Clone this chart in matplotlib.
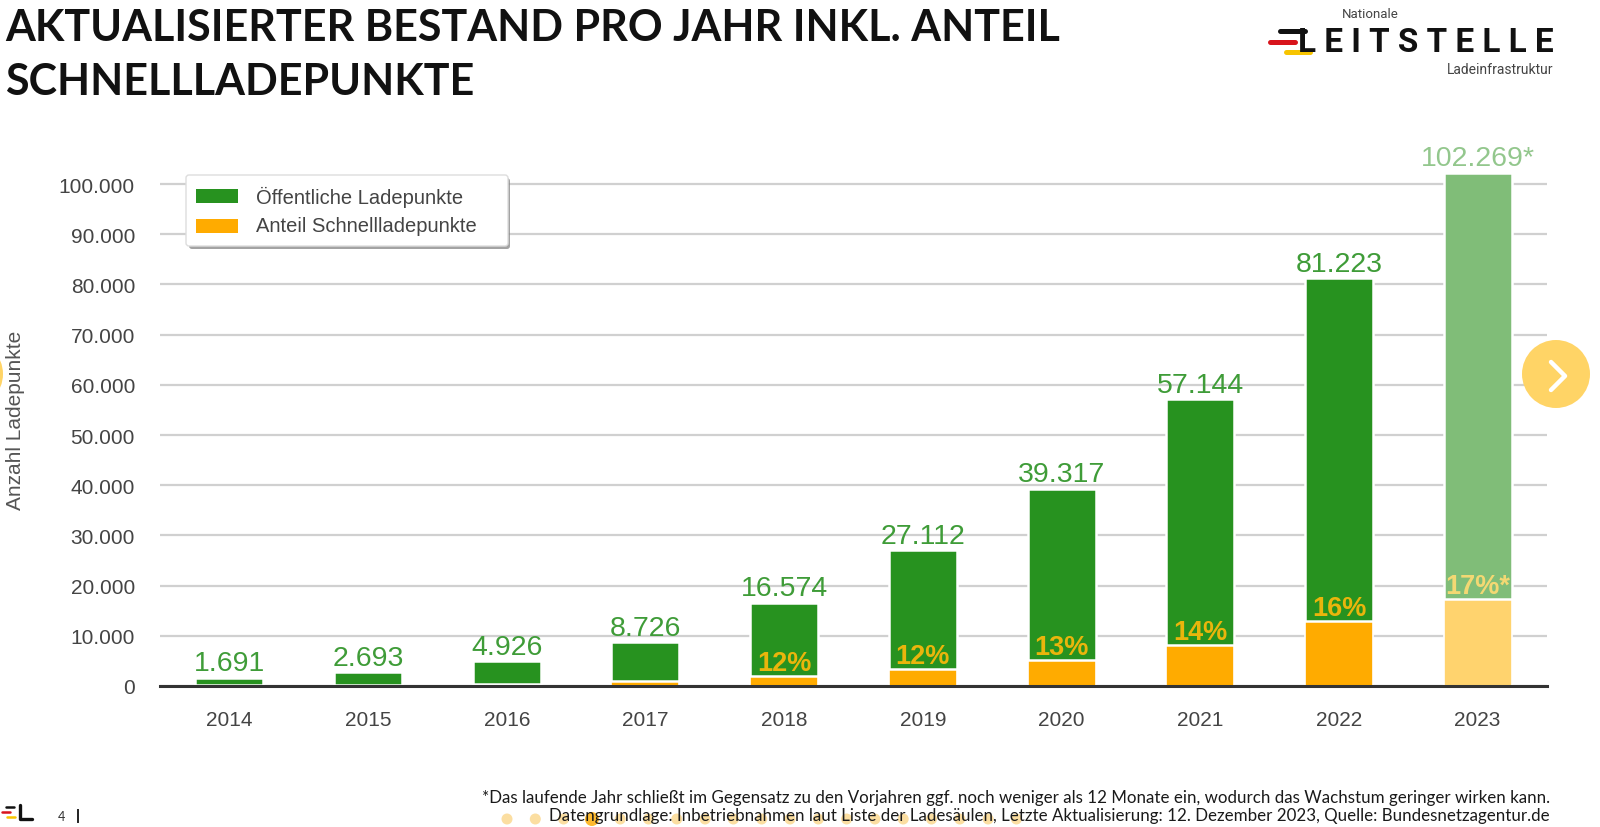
import matplotlib
matplotlib.use("Agg")
import matplotlib.pyplot as plt
from matplotlib.patches import Circle, FancyBboxPatch, Rectangle

years = ["2014", "2015", "2016", "2017", "2018", "2019", "2020", "2021", "2022", "2023"]
total_points = [1691, 2693, 4926, 8726, 16574, 27112, 39317, 57144, 81223, 102269]
fast_points = [100, 150, 350, 1000, 2000, 3300, 5150, 8200, 12900, 17300]
total_labels = ["1.691", "2.693", "4.926", "8.726", "16.574", "27.112", "39.317", "57.144", "81.223", "102.269*"]
share_labels = ["", "", "", "", "12%", "12%", "13%", "14%", "16%", "17%*"]
y_ticks = [0, 10000, 20000, 30000, 40000, 50000, 60000, 70000, 80000, 90000, 100000]
y_tick_labels = ["0", "10.000", "20.000", "30.000", "40.000", "50.000", "60.000", "70.000", "80.000", "90.000", "100.000"]

W, H = 1600, 828
GREEN = "#27921f"
ORANGE = "#ffab00"
GREEN_LIGHT = "#80bd78"
ORANGE_LIGHT = "#ffd36e"
SANS = "Liberation Sans"
SLIDE = "Lato"

fig = plt.figure(figsize=(16, 8.28), dpi=100, facecolor="white")

# chart area: y=0 at 687 px, y=100000 at 185 px
ax = fig.add_axes([160 / W, 1 - 687 / H, (1547 - 160) / W, (687 - 150) / H])
ax.set_xlim(-0.5, 9.5)
ax.set_ylim(0, 100000 * (687 - 150) / (687 - 185))

x = range(len(years))
green_colors = [GREEN] * 9 + [GREEN_LIGHT]
orange_colors = [ORANGE] * 9 + [ORANGE_LIGHT]
rest_points = [t - f for t, f in zip(total_points, fast_points)]
ax.bar(x, fast_points, width=0.49, color=orange_colors, edgecolor="white", linewidth=1.2, zorder=3)
ax.bar(x, rest_points, bottom=fast_points, width=0.49, color=green_colors, edgecolor="white",
       linewidth=1.8, zorder=3)

for i, label in enumerate(total_labels):
    color = "#3f9c38" if i < 9 else "#93c78d"
    ax.annotate(label, xy=(i, total_points[i]), xytext=(0, 1), textcoords="offset points",
                ha="center", va="bottom", fontsize=20.5, color=color, family=SANS, zorder=5)

for i, label in enumerate(share_labels):
    if label:
        color = "#eab50c" if i < 9 else "#f3d873"
        ax.annotate(label, xy=(i, fast_points[i]), xytext=(0, 0), textcoords="offset points",
                    ha="center", va="bottom", fontsize=19.5, fontweight="bold", color=color,
                    family=SANS, zorder=5)

ax.set_yticks(y_ticks)
ax.set_yticklabels(y_tick_labels, fontsize=15, color="#444444", family=SANS)
ax.set_xticks(list(x))
ax.set_xticklabels(years, fontsize=15, color="#444444", family=SANS)
ax.tick_params(axis="both", length=0)
ax.tick_params(axis="y", pad=18)
ax.tick_params(axis="x", pad=17)
ax.grid(axis="y", color="#d0d0d0", linewidth=1.6, zorder=1)
ax.set_axisbelow(True)
for side in ["top", "right", "left"]:
    ax.spines[side].set_visible(False)
ax.spines["bottom"].set_color("#333333")
ax.spines["bottom"].set_linewidth(2.2)
ax.spines["bottom"].set_zorder(6)

# overlay in pixel coordinates for the slide furniture
ov = fig.add_axes([0, 0, 1, 1], facecolor="none")
ov.set_xlim(0, W)
ov.set_ylim(H, 0)
ov.axis("off")

ov.text(16, 420, "Anzahl Ladepunkte", rotation=90, ha="center", va="center", fontsize=15,
        color="#555555", family=SANS)

# title
ov.text(5, 41, "AKTUALISIERTER BESTAND PRO JAHR INKL. ANTEIL", fontsize=31, fontweight="bold",
        color="#111111", family=SLIDE)
ov.text(5, 95, "SCHNELLLADEPUNKTE", fontsize=31, fontweight="bold", color="#111111", family=SLIDE)

# legend
ov.add_patch(FancyBboxPatch((189, 179), 321, 71, boxstyle="round,pad=0,rounding_size=3",
                            fc="#8c8c8c", ec="none", alpha=0.8, zorder=7))
ov.add_patch(FancyBboxPatch((186, 176), 322, 71, boxstyle="round,pad=0,rounding_size=3",
                            fc="white", ec="#dddddd", lw=1, zorder=8))
ov.add_patch(Rectangle((196, 190), 42, 14, fc=GREEN, ec="none", zorder=9))
ov.add_patch(Rectangle((196, 220), 42, 14, fc=ORANGE, ec="none", zorder=9))
ov.text(256, 197, "Öffentliche Ladepunkte", fontsize=14.5, color="#444444", va="center",
        family=SANS, zorder=9)
ov.text(256, 227, "Anteil Schnellladepunkte", fontsize=14.5, color="#444444", va="center",
        family=SANS, zorder=9)

# logo
for x0, x1, y0, col in [(1280, 1305, 32, "#111111"), (1270, 1295, 43, "#d8141c"), (1286, 1310, 53, "#f7c400")]:
    ov.plot([x0, x1], [y0, y0], color=col, lw=3.6, solid_capstyle="round")
ov.text(1342, 14, "Nationale", fontsize=9.5, color="#444444", va="center", family="Roboto")
ov.text(1426, 43, "L E I T S T E L L E", fontsize=24, fontweight="bold", color="#111111", ha="center",
        va="center", family="Roboto")
ov.text(1447, 70, "Ladeinfrastruktur", fontsize=10, color="#444444", va="center", family="Roboto")

# slider arrows
ov.add_patch(Circle((1556, 375), 34, fc="#ffd466", ec="none", zorder=9))
ov.plot([1551, 1565, 1551], [363, 377, 391], color="white", lw=3.2, solid_capstyle="round",
        solid_joinstyle="round", zorder=10)
ov.add_patch(Circle((-31, 375), 34, fc="#ffd466", ec="none", zorder=9))

# footer
dot_xs = [507 + 28.3 * i for i in range(19)]
for i, dx in enumerate(dot_xs):
    if i == 3:
        ov.add_patch(Circle((dx, 820), 7, fc="#fdb92e", ec="none", zorder=2))
    else:
        ov.add_patch(Circle((dx, 820), 5.5, fc="#fbd68a", ec="none", alpha=0.8, zorder=2))
ov.text(1550, 798, "*Das laufende Jahr schließt im Gegensatz zu den Vorjahren ggf. noch weniger als 12 Monate ein, "
        "wodurch das Wachstum geringer wirken kann.", fontsize=12.2, color="#1a1a1a", ha="right", va="center",
        family=SLIDE, zorder=4)
ov.text(1550, 816, "Datengrundlage: Inbetriebnahmen laut Liste der Ladesäulen, Letzte Aktualisierung: "
        "12. Dezember 2023, Quelle: Bundesnetzagentur.de", fontsize=12.2, color="#1a1a1a", ha="right", va="center",
        family=SLIDE, zorder=4)

for x0, x1, y0, col in [(6, 14, 808, "#111111"), (2, 10, 813, "#d8141c"), (7, 15, 818, "#f7c400")]:
    ov.plot([x0, x1], [y0, y0], color=col, lw=1.8, solid_capstyle="round")
ov.plot([20, 20, 32], [806, 820, 820], color="#111111", lw=2.4, solid_capstyle="round")
ov.text(61, 817, "4", fontsize=9, color="#333333", ha="center", va="center", family=SLIDE)
ov.plot([78, 78], [811, 823], color="#222222", lw=1.4)

fig.savefig("out.png", dpi=100, facecolor="white")
